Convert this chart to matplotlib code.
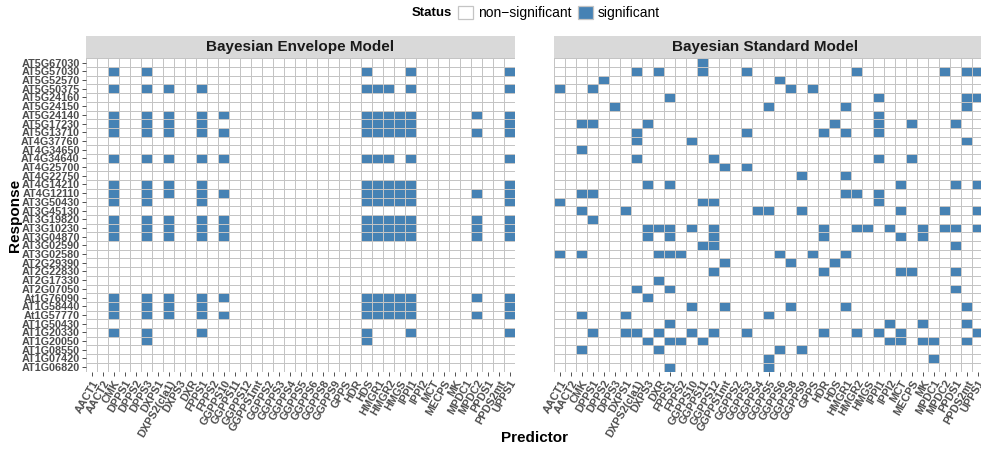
import matplotlib
matplotlib.use("Agg")
import matplotlib.pyplot as plt
import numpy as np
from matplotlib.colors import ListedColormap
from matplotlib.patches import Patch, Rectangle

plt.rcParams['font.family'] = ['Liberation Sans', 'DejaVu Sans']

# predictors (columns) and responses (rows, top to bottom)
predictors = ["AACT1", "AACT2", "CMK", "DPPS1", "DPPS2", "DPPS3", "DXPS1", "DXPS2(cla1)",
              "DXPS3", "DXR", "FPPS1", "FPPS2", "GGPPS10", "GGPPS11", "GGPPS12", "GGPPS1mt",
              "GGPPS2", "GGPPS3", "GGPPS4", "GGPPS5", "GGPPS6", "GGPPS8", "GGPPS9", "GPPS",
              "HDR", "HDS", "HMGR1", "HMGR2", "HMGS", "IPPI1", "IPPI2", "MCT", "MECPS", "MK",
              "MPDC1", "MPDC2", "PPDS1", "PPDS2mt", "UPPS1"]
responses = ["AT5G67030", "AT5G57030", "AT5G52570", "AT5G50375", "AT5G24160", "AT5G24150",
             "AT5G24140", "AT5G17230", "AT5G13710", "AT4G37760", "AT4G34650", "AT4G34640",
             "AT4G25700", "AT4G22750", "AT4G14210", "AT4G12110", "AT3G50430", "AT3G45130",
             "AT3G19820", "AT3G10230", "AT3G04870", "AT3G02590", "AT3G02580", "AT2G29390",
             "AT2G22830", "AT2G17330", "AT2G07050", "At1G76090", "AT1G58440", "At1G57770",
             "AT1G50430", "AT1G20330", "AT1G20050", "AT1G08550", "AT1G07420", "AT1G06820"]

# significant predictors for each response
envelope_sig = [
    "",
    "CMK DPPS3 HDS IPPI1 UPPS1",
    "",
    "CMK DPPS3 DXPS2(cla1) FPPS1 HDS HMGR1 HMGR2 IPPI1 UPPS1",
    "",
    "",
    "CMK DPPS3 DXPS2(cla1) FPPS1 GGPPS10 HDS HMGR1 HMGR2 HMGS IPPI1 MPDC2 UPPS1",
    "CMK DPPS3 DXPS2(cla1) FPPS1 HDS HMGR1 HMGR2 HMGS IPPI1 UPPS1",
    "CMK DPPS3 DXPS2(cla1) FPPS1 GGPPS10 HDS HMGR1 HMGR2 HMGS IPPI1 MPDC2 UPPS1",
    "",
    "",
    "CMK DPPS3 DXPS2(cla1) FPPS1 GGPPS10 HDS HMGR1 HMGR2 IPPI1 UPPS1",
    "",
    "",
    "CMK DPPS3 DXPS2(cla1) FPPS1 HDS HMGR1 HMGR2 HMGS IPPI1 UPPS1",
    "CMK DPPS3 DXPS2(cla1) FPPS1 GGPPS10 HDS HMGR1 HMGR2 HMGS IPPI1 MPDC2 UPPS1",
    "CMK DPPS3 FPPS1 HDS HMGR1 HMGR2 HMGS IPPI1 UPPS1",
    "",
    "CMK DPPS3 DXPS2(cla1) FPPS1 GGPPS10 HDS HMGR1 HMGR2 HMGS IPPI1 MPDC2 UPPS1",
    "CMK DPPS3 DXPS2(cla1) FPPS1 GGPPS10 HDS HMGR1 HMGR2 HMGS IPPI1 MPDC2 UPPS1",
    "CMK DPPS3 DXPS2(cla1) FPPS1 GGPPS10 HDS HMGR1 HMGR2 HMGS IPPI1 MPDC2 UPPS1",
    "",
    "",
    "",
    "",
    "",
    "",
    "CMK DPPS3 DXPS2(cla1) FPPS1 GGPPS10 HDS HMGR1 HMGR2 HMGS IPPI1 MPDC2 UPPS1",
    "CMK DPPS3 DXPS2(cla1) FPPS1 HDS HMGR1 HMGR2 HMGS IPPI1 UPPS1",
    "CMK DPPS3 DXPS2(cla1) FPPS1 GGPPS10 HDS HMGR1 HMGR2 HMGS IPPI1 MPDC2 UPPS1",
    "",
    "CMK DPPS3 FPPS1 HDS IPPI1 UPPS1",
    "DPPS3 HDS",
    "",
    "",
    "",
]

standard_sig = [
    "GGPPS11",
    "DXPS2(cla1) DXR GGPPS11 GGPPS3 HMGR2 MPDC2 PPDS2mt UPPS1",
    "DPPS2 GGPPS6",
    "AACT1 DPPS1 GGPPS8 GPPS",
    "FPPS1 IPPI1 PPDS2mt UPPS1",
    "DPPS3 GGPPS5 HMGR1 PPDS2mt",
    "IPPI1",
    "CMK DPPS1 DXPS3 HDS IPPI1 MECPS PPDS1",
    "DXPS2(cla1) GGPPS3 HDR HMGR1 IPPI1",
    "DXPS2(cla1) GGPPS10 PPDS2mt",
    "CMK",
    "DXPS2(cla1) GGPPS12 IPPI1 MECPS",
    "GGPPS1mt GGPPS3",
    "GGPPS9 HMGR1",
    "DXPS3 FPPS1 MCT PPDS1 UPPS1",
    "CMK DPPS1 HMGR1 HMGR2 IPPI1",
    "AACT1 GGPPS11 GGPPS12 IPPI1",
    "CMK DXPS1 GGPPS4 GGPPS5 GGPPS9 MCT MPDC2 UPPS1",
    "DPPS1",
    "DXPS3 DXR FPPS1 GGPPS10 GGPPS12 HDR HMGR2 HMGS IPPI2 MK MPDC2 PPDS1 UPPS1",
    "DXPS3 FPPS1 GGPPS12 HDR MCT MK",
    "GGPPS11 GGPPS12 PPDS1",
    "AACT1 CMK DXR FPPS1 FPPS2 GGPPS6 GPPS HMGR1",
    "GGPPS1mt GGPPS8 HDS",
    "GGPPS12 HDR MCT MECPS PPDS1",
    "DXR",
    "DXPS2(cla1) FPPS1 PPDS1",
    "DXPS3",
    "GGPPS10 GGPPS1mt GGPPS8 HMGR1 PPDS2mt",
    "CMK DXPS1 GGPPS5",
    "FPPS1 IPPI2 MK PPDS2mt",
    "DPPS1 DXPS1 DXPS2(cla1) DXR GGPPS10 GGPPS12 GGPPS3 HDR HMGR2 IPPI1 MCT UPPS1",
    "DXPS3 FPPS1 FPPS2 GGPPS11 IPPI2 MCT MK MPDC1 PPDS2mt",
    "CMK DXR GGPPS6 GGPPS9",
    "GGPPS5 MPDC1",
    "FPPS1 GGPPS5",
]

panel_titles = ["Bayesian Envelope Model", "Bayesian Standard Model"]
status_labels = ["non\u2212significant", "significant"]
status_colors = ["white", "#4682B4"]


def to_matrix(sig_rows):
    m = np.zeros((len(responses), len(predictors)))
    for i, row in enumerate(sig_rows):
        for name in row.split():
            m[i, predictors.index(name)] = 1
    return m


W, H = 981, 451
fig = plt.figure(figsize=(W / 100, H / 100), dpi=100)


def px_axes(x0, y0, x1, y1):
    return fig.add_axes([x0 / W, 1 - y1 / H, (x1 - x0) / W, (y1 - y0) / H])


text_col = "#4D4D4D"
grid_col = "#C4C4C4"
cmap = ListedColormap(status_colors)

axes = [px_axes(86, 58.3, 515, 371.5), px_axes(554, 58.3, 983, 371.5)]
for k, (ax, sig) in enumerate(zip(axes, [envelope_sig, standard_sig])):
    mat = to_matrix(sig)
    ax.pcolormesh(mat, cmap=cmap, vmin=0, vmax=1, edgecolors=grid_col, linewidth=0.7)
    ax.set_xlim(0, len(predictors))
    ax.set_ylim(len(responses), 0)
    for s in ax.spines.values():
        s.set_visible(False)
    ax.set_xticks(np.arange(len(predictors)) + 0.5)
    ax.set_xticklabels(predictors, rotation=60, ha="right", va="top",
                       rotation_mode="anchor", fontsize=7.8, fontweight="bold", color=text_col)
    ax.tick_params(axis="x", length=3, width=0.6, color="#333333", pad=2)
    if k == 0:
        ax.set_yticks(np.arange(len(responses)) + 0.5)
        ax.set_yticklabels(responses, fontsize=7.8, fontweight="bold", color=text_col)
        ax.tick_params(axis="y", length=3, width=0.6, color="#333333", pad=1.5)
    else:
        ax.set_yticks([])
    # facet strip
    strip_h = 22 / 313.2
    ax.add_patch(Rectangle((0, 1), 1, strip_h, transform=ax.transAxes,
                           facecolor="#D9D9D9", edgecolor="none", clip_on=False))
    ax.text(0.5 if k == 0 else 0.493, 1 + strip_h / 2, panel_titles[k], transform=ax.transAxes,
            ha="center", va="center", fontsize=11, fontweight="bold", color="#1A1A1A")

fig.text(15 / W, 1 - 215 / H, "Response", rotation=90, ha="center", va="center",
         fontsize=11, fontweight="bold")
fig.text(534 / W, 1 - 438 / H, "Predictor", ha="center", va="center",
         fontsize=11, fontweight="bold")

# legend across the top
handles = [Patch(facecolor=c, edgecolor=grid_col, linewidth=0.9) for c in status_colors]
fig.legend(handles, status_labels, loc="center left", bbox_to_anchor=(458 / W, 1 - 13 / H),
           ncol=2, frameon=False, fontsize=10, handlelength=1.1, handleheight=1.1,
           handletextpad=0.35, columnspacing=0.45, borderpad=0, borderaxespad=0)
fig.text(452 / W, 1 - 13 / H, "Status", ha="right", va="center", fontsize=9.5, fontweight="bold")

fig.savefig("out.png", dpi=100)
